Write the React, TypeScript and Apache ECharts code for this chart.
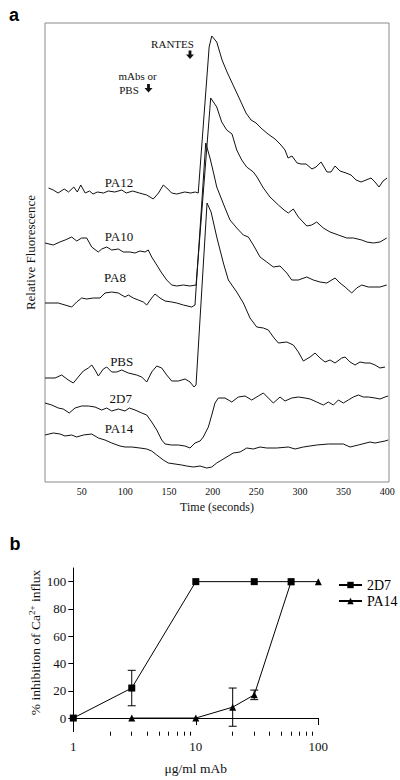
import React, { useEffect, useRef } from "react";
import * as echarts from "echarts";

const SERIF = "'Liberation Serif', 'Times New Roman', serif";
const SANS = "'Liberation Sans', Arial, sans-serif";

// Panel a: time axis tick labels (seconds)
const timeTicks = [50, 100, 150, 200, 250, 300, 350, 400];

// Panel a traces: [time (s), relative fluorescence (arbitrary units, offset per trace)]
const tracePA12 = [[12,294],[17.5,292],[23,289],[30,293],[35,290],[41,295],[45,290],[49,297],[54,289],[59,291],[63,288],[68,290],[75,289],[80.5,291],[88,290],[96,292],[101,289],[108.5,291],[116,289],[124.5,287],[132,283],[138,289],[143.5,297],[147.5,294],[153,289],[159,288],[168,290],[175,289],[180,290],[183.5,289],[196,435],[199,446],[204.7,440],[210.8,422],[216.5,410],[223.4,397],[231.4,382],[238.2,369],[244,362],[249.7,359],[256.6,353],[263.4,348],[271.5,343],[278.3,337],[282.9,332],[286.4,324],[290.9,326],[296.7,319],[301.2,318],[307,318],[313.8,313],[318.4,315],[324.2,320],[331,310],[335.6,310],[340.2,316],[345.9,311],[352.8,309],[358.5,307],[364.3,302],[370,300],[375.7,302],[381.4,304],[386,300],[390.6,295],[395.2,301],[399.8,304]];
const tracePA10 = [[8,239],[17.5,237],[25,240],[31,242],[38.6,245],[44.3,241],[50,244],[55.8,244],[61.5,235],[69,230],[73,233],[78.7,235],[84.4,232],[92,233],[97.7,230],[105.4,230],[111,229],[116.8,231],[122.6,230],[126.3,232],[130.2,225],[136,217],[141.7,209],[147.4,202],[153.1,197],[158.9,196],[166.4,197],[174.1,196],[181,197],[197.8,384],[204.7,375],[210.4,360],[216.1,352],[222.2,348],[227.6,332],[233.3,322],[239,315],[246.6,310],[250.8,305],[258.1,294],[265.7,285],[275.3,277],[281.8,272],[286.7,269],[292.4,273],[298.2,265],[307.8,256],[313.5,257],[319.2,260],[326.8,254],[334.5,250],[344,247],[353.6,244],[361.2,244],[370.8,242],[376.5,240],[384.1,239],[391.7,240],[399.4,244]];
const tracePA8 = [[8,179],[13.7,179],[23.2,179],[30.9,177],[38.6,175],[44.3,180],[50,184],[55.8,183],[63.3,184],[71,184],[76.7,189],[84.4,190],[92,189],[99.6,185],[103.4,187],[109.1,184],[114.9,182],[120.6,180],[124.5,177],[130.2,184],[134,188],[139.7,184],[145.5,181],[153.1,180],[158.9,179],[166.4,177],[176.1,175],[179.8,177],[192.1,339],[197,324],[200.8,310],[204.7,295],[214.2,274],[219.9,262],[227.6,254],[235.2,247],[240.9,245],[246.6,237],[254.3,225],[262,220],[269.5,215],[277.2,216],[284.9,209],[290.6,202],[298.2,202],[307.8,205],[315.3,202],[323,200],[330.7,199],[340.2,204],[345.9,199],[351.7,195],[359.3,189],[365,194],[370.8,197],[378.3,195],[386,195],[391.7,195],[399.4,197]];
const tracePBS = [[8,104],[19.5,104],[27.1,107],[34.7,102],[40.4,99],[46.1,105],[51.9,111],[57.6,114],[61.5,117],[65.3,112],[69.1,106],[74.8,113],[78.7,115],[84.4,110],[90.1,110],[95.9,112],[103.4,109],[113,107],[118.8,105],[124.5,100],[130.2,110],[136,116],[141.7,114],[147.4,107],[153.1,101],[160.7,101],[168.4,103],[174.1,100],[178.7,95],[181,97],[193.6,279],[198.2,270],[204.7,245],[212.3,219],[218,202],[227.6,190],[235.2,179],[242.8,164],[250.5,155],[258.1,154],[263.8,152],[269.5,145],[275.3,139],[284.9,140],[292.4,137],[298.2,130],[303.9,121],[311.6,125],[317.3,129],[323,124],[328.7,120],[334.5,122],[340.2,119],[347.9,124],[351.7,125],[357.4,120],[363.1,117],[368.8,120],[374.6,119],[380.3,119],[386,117],[391.7,114],[397.5,115]];
const trace2D7 = [[8,79],[15.7,77],[23.2,74],[28.9,73],[35.8,69],[42.4,74],[50,76],[57.6,76],[65.3,75],[72.9,72],[78.7,74],[84.4,71],[92,73],[99.6,71],[104.6,74],[111.1,72],[118.8,69],[124.5,67],[130.2,60],[136,52],[141.7,42],[145.5,38],[153.1,37],[160.7,37],[168.4,36],[174.1,34],[179.8,39],[185.6,41],[189.3,45],[195.1,55],[199,67],[202.7,79],[206.5,84],[214.2,84],[221.9,80],[229.4,85],[237.1,86],[244.8,82],[252.3,86],[258.1,89],[263.8,84],[269.5,79],[277.2,85],[282.9,81],[290.6,84],[298.2,85],[305.8,84],[311.6,83],[319.2,80],[326.8,77],[332.5,80],[338.3,77],[344,82],[349.7,79],[355.4,82],[361.2,85],[366.9,87],[372.6,85],[378.3,85],[386,84],[391.7,83],[397.5,85],[401,86]];
const tracePA14 = [[8,47],[17.5,49],[25.2,48],[30.9,46],[38.6,47],[44.3,45],[51.9,47],[61.5,48],[69.1,44],[76.7,42],[84.4,39],[93.9,36],[99.6,35],[107.3,35],[116.8,34],[124.5,33],[130.2,31],[136,27],[143.5,22],[149.2,19],[156.9,18],[164.6,17],[170.3,16],[177.9,15],[185.6,16],[193.2,14],[199,15],[204.7,19],[208.5,21],[223.7,29],[231.4,30],[239.1,34],[246.6,33],[254.3,35],[262,34],[273.4,34],[286.7,35],[294.4,33],[303.9,35],[319.2,37],[332.5,38],[349.7,38],[357.4,35],[366.9,37],[380.3,40],[386,39],[397.5,41],[401,42]];

// Panel b
const doseTicks = [1, 10, 100];
const doseMinorTicks = [2, 3, 4, 5, 6, 7, 8, 9, 20, 30, 40, 50, 60, 70, 80, 90];
const inhibTicks = [0, 20, 40, 60, 80, 100];
const dose2D7 = [1, 3, 10, 30, 60];
const inhib2D7 = [0, 22, 100, 100, 100];
const err2D7 = [0, 13, 0, 0, 0];
const dosePA14 = [3, 10, 20, 30, 60, 100];
const inhibPA14 = [0, 0, 8, 17, 100, 100];
const errPA14 = [0, 0, 14, 3.5, 0, 0];

const INK = "#111";

function traceSeries(name: string, data: number[][]) {
  return {
    type: "line",
    name,
    xAxisIndex: 0,
    yAxisIndex: 0,
    data,
    symbol: "none",
    lineStyle: { color: INK, width: 1 },
    itemStyle: { color: INK },
    silent: true,
  };
}

function errorSeries(dose: number[], inhib: number[], err: number[]) {
  return {
    type: "custom",
    xAxisIndex: 1,
    yAxisIndex: 1,
    z: 5,
    silent: true,
    data: dose.map((d, i) => [d, inhib[i], err[i]]),
    encode: { x: 0, y: 1 },
    renderItem: (_p: any, api: any) => {
      const x = api.value(0);
      const y = api.value(1);
      const e = api.value(2);
      if (!e) return null;
      const top = api.coord([x, y + e]);
      const bot = api.coord([x, y - e]);
      const w = 4;
      const st = { stroke: "#000", lineWidth: 1 };
      return {
        type: "group",
        children: [
          { type: "line", shape: { x1: top[0], y1: top[1], x2: bot[0], y2: bot[1] }, style: st },
          { type: "line", shape: { x1: top[0] - w, y1: top[1], x2: top[0] + w, y2: top[1] }, style: st },
          { type: "line", shape: { x1: bot[0] - w, y1: bot[1], x2: bot[0] + w, y2: bot[1] }, style: st },
        ],
      };
    },
  };
}

function label(text: string, x: number, y: number, size = 13) {
  return {
    type: "text",
    x,
    y,
    silent: true,
    style: { text, fontSize: size, fontFamily: SERIF, fill: INK, align: "center", verticalAlign: "middle" },
  };
}

function arrow(cx: number, cy: number) {
  return {
    type: "polygon",
    silent: true,
    shape: {
      points: [
        [cx - 1.4, cy - 4.5], [cx + 1.4, cy - 4.5], [cx + 1.4, cy - 0.5], [cx + 4, cy - 0.5],
        [cx, cy + 4], [cx - 4, cy - 0.5], [cx - 1.4, cy - 0.5],
      ],
    },
    style: { fill: INK },
  };
}

export default function App() {
  const ref = useRef<HTMLDivElement>(null);
  useEffect(() => {
    const chart = echarts.init(ref.current!, null, { renderer: "svg" });
    const option: any = {
      animation: false,
      backgroundColor: "#fff",
      textStyle: { fontFamily: SERIF },
      grid: [
        { left: 45, top: 23, width: 344, height: 459, show: true, borderColor: "#8a8a8a", borderWidth: 1, containLabel: false },
        { left: 73.3, top: 568, width: 245, height: 163.7, containLabel: false },
      ],
      legend: {
        data: ["2D7", "PA14"],
        orient: "vertical",
        left: 333,
        top: 573,
        itemWidth: 23,
        itemHeight: 8,
        itemGap: 2,
        selectedMode: false,
        textStyle: { fontFamily: SERIF, fontSize: 14, color: "#000" },
      },
      xAxis: [
        {
          gridIndex: 0, type: "value", min: 8, max: 402, position: "bottom",
          axisLine: { show: false }, axisTick: { show: false }, splitLine: { show: false },
          axisLabel: { customValues: timeTicks, fontSize: 10, margin: 4, color: INK, fontFamily: SERIF },
          name: "Time (seconds)", nameLocation: "middle", nameGap: 19,
          nameTextStyle: { fontSize: 12, color: INK, fontFamily: SERIF },
        },
        {
          gridIndex: 1, type: "log", logBase: 10, min: 1, max: 100, position: "bottom",
          axisLine: { show: true, lineStyle: { color: "#000", width: 1 } },
          axisTick: { show: true, customValues: doseTicks, length: 7, lineStyle: { color: "#000" } },
          axisLabel: { customValues: doseTicks, fontSize: 13, margin: 8, color: INK, fontFamily: SERIF },
          splitLine: { show: false },
          name: "μg/ml mAb", nameLocation: "middle", nameGap: 30,
          nameTextStyle: { fontSize: 13.5, color: INK, fontFamily: SERIF },
        },
        {
          gridIndex: 1, type: "log", logBase: 10, min: 1, max: 100, position: "bottom", offset: 0,
          axisLine: { show: false },
          axisTick: { show: true, customValues: doseMinorTicks, length: 4, lineStyle: { color: "#000" } },
          axisLabel: { show: false },
          splitLine: { show: false },
        },
      ],
      yAxis: [
        {
          gridIndex: 0, type: "value", min: 0, max: 459,
          axisLine: { show: false }, axisTick: { show: false }, axisLabel: { show: false }, splitLine: { show: false },
          name: "Relative Fluorescence", nameLocation: "middle", nameGap: 8,
          nameTextStyle: { fontSize: 13, color: INK, fontFamily: SERIF },
        },
        {
          gridIndex: 1, type: "value", min: -10, max: 110,
          axisLine: { show: true, lineStyle: { color: "#000", width: 1 } },
          axisTick: { show: true, customValues: inhibTicks, length: 5, lineStyle: { color: "#000" } },
          axisLabel: { customValues: inhibTicks, fontSize: 13, margin: 7, color: INK, fontFamily: SERIF },
          splitLine: { show: false },
        },
      ],
      series: [
        traceSeries("PA12 trace", tracePA12),
        traceSeries("PA10 trace", tracePA10),
        traceSeries("PA8 trace", tracePA8),
        traceSeries("PBS trace", tracePBS),
        traceSeries("2D7 trace", trace2D7),
        traceSeries("PA14 trace", tracePA14),
        {
          type: "line", name: "PA14", xAxisIndex: 1, yAxisIndex: 1,
          data: dosePA14.map((d, i) => [d, inhibPA14[i]]),
          symbol: "triangle", symbolSize: 7, z: 3,
          lineStyle: { color: "#000", width: 1 }, itemStyle: { color: "#000" },
        },
        {
          type: "line", name: "2D7", xAxisIndex: 1, yAxisIndex: 1,
          data: dose2D7.map((d, i) => [d, inhib2D7[i]]),
          symbol: "rect", symbolSize: 7, z: 4,
          lineStyle: { color: "#000", width: 1 }, itemStyle: { color: "#000" },
        },
        errorSeries(dose2D7, inhib2D7, err2D7),
        errorSeries(dosePA14, inhibPA14, errPA14),
      ],
      graphic: [
        { type: "text", x: 14, y: 15, silent: true, style: { text: "a", fontSize: 18, fontWeight: "bold", fontFamily: SANS, fill: "#000", align: "center", verticalAlign: "middle" } },
        { type: "text", x: 15, y: 544, silent: true, style: { text: "b", fontSize: 18, fontWeight: "bold", fontFamily: SANS, fill: "#000", align: "center", verticalAlign: "middle" } },
        label("RANTES", 172.5, 43.5, 11),
        arrow(190, 55),
        label("mAbs or", 137.5, 76, 11),
        label("PBS", 129, 89.5, 11),
        arrow(148.5, 88.5),
        label("PA12", 119, 182),
        label("PA10", 119, 236),
        label("PA8", 115, 277),
        label("PBS", 121.7, 361),
        label("2D7", 120.8, 398.7),
        label("PA14", 119, 428),
        {
          type: "text", x: 35, y: 642.5, rotation: Math.PI / 2, silent: true,
          style: {
            text: "% inhibition of Ca{sup|2+} influx",
            fontSize: 13.5, fontFamily: SERIF, fill: INK, align: "center", verticalAlign: "middle", lineHeight: 16,
            rich: { sup: { fontSize: 9, fontFamily: SERIF, fill: INK, verticalAlign: "top", lineHeight: 10 } },
          },
        },
      ],
    };
    chart.setOption(option);
    return () => chart.dispose();
  }, []);
  return (
    <div
      ref={ref}
      style={{ position: "absolute", left: 0, top: 0, width: 400, height: 780, background: "#fff" }}
    />
  );
}
